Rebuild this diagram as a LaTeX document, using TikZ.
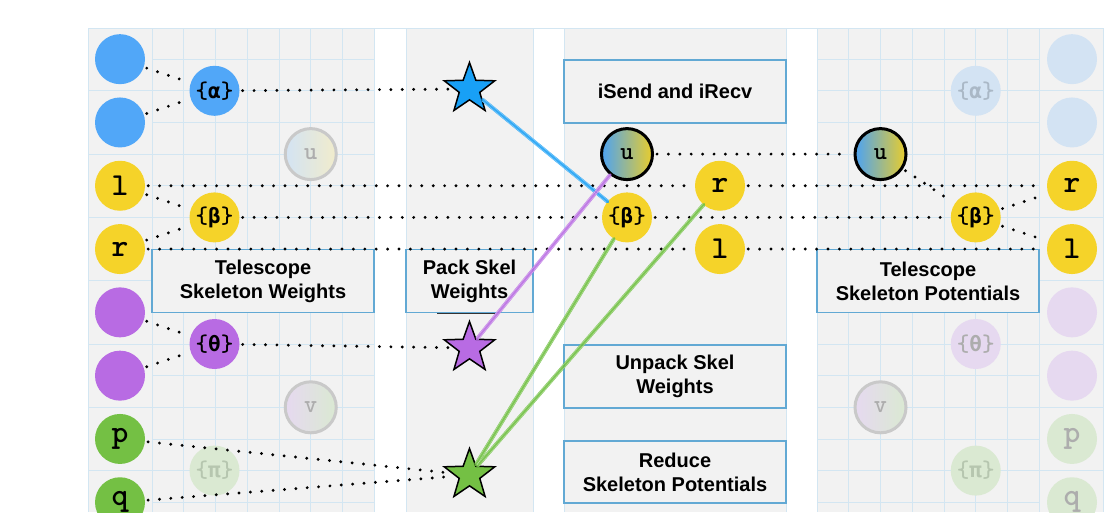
\documentclass[tikz,border=0pt]{standalone}
\usepackage{fontspec}
\setmainfont{Liberation Sans}
\newfontfamily\grk{DejaVu Sans Mono}
\usetikzlibrary{shapes.geometric}
\definecolor{panel}{HTML}{F2F2F2}
\definecolor{gridc}{HTML}{D3E6F2}
\definecolor{boxc}{HTML}{62A9D4}
\definecolor{cblue}{HTML}{51A7F8}
\definecolor{cyel}{HTML}{F5D329}
\definecolor{cpur}{HTML}{B86BE3}
\definecolor{cgrn}{HTML}{74C044}
\definecolor{fblue}{HTML}{D3E3F3}
\definecolor{fpur}{HTML}{E6D9F0}
\definecolor{fgrn}{HTML}{DAE9D2}
\definecolor{fyel}{HTML}{F1ECCC}
\definecolor{ftext}{HTML}{ADADAD}
\definecolor{ftextg}{HTML}{B6C6AF}
\definecolor{ftextb}{HTML}{AAB8C6}
\definecolor{fring}{HTML}{C9C9C9}
\definecolor{sblue}{HTML}{18A0F6}
\definecolor{sgrn}{HTML}{6DBF3E}
\definecolor{ublue}{HTML}{4DA3F2}
\definecolor{uyel}{HTML}{E9CD2C}
\newcommand{\grp}[1]{\{{\grk\bfseries\fontsize{21}{21}\selectfont #1}\}}
\tikzset{
  gridl/.style={draw=gridc, line width=0.9pt},
  lab/.style={draw=boxc, line width=1.2pt, fill=panel, align=center, inner sep=0pt,
    font=\bfseries\fontsize{20}{24}\selectfont},
  bigc/.style={circle, minimum size=50pt, inner sep=0pt,
    font=\ttfamily\bfseries\fontsize{32}{32}\selectfont},
  grpc/.style={circle, minimum size=50pt, inner sep=0pt,
    font=\ttfamily\bfseries\fontsize{24}{24}\selectfont},
  unode/.style={circle, minimum size=51pt, inner sep=0pt, line width=3pt,
    font=\ttfamily\bfseries\fontsize{25}{25}\selectfont},
  stl/.style={star, star points=5, star point ratio=2.45, minimum size=53pt,
    inner sep=0pt, draw=black, line width=1.5pt},
  dotl/.style={line width=3.2pt, line cap=round, dash pattern=on 0pt off 11.4pt,
    shorten <=3pt, shorten >=3pt},
  skl/.style={line width=3.8pt, line cap=round, opacity=0.88},
  skt/.style={line width=0.45pt, white, opacity=0.4},
}
\begin{document}
\begin{tikzpicture}[x=1pt,y=-1pt]
\clip (0,0) rectangle (1116,512);
\fill[white] (0,0) rectangle (1116,512);
% panels
\fill[panel] (88,28) rectangle (374,512);
\fill[panel] (406,28) rectangle (533,512);
\fill[panel] (564,28) rectangle (786,512);
\fill[panel] (817,28) rectangle (1103,512);
% grid left
\foreach \i in {0,...,7} \draw[gridl] (152+31.75*\i,28) -- (152+31.75*\i,512);
\foreach \k in {1,...,15} \draw[gridl] (152,27.5+31.65*\k) -- (374,27.5+31.65*\k);
\foreach \k in {2,4,...,14} \draw[gridl] (88,27.5+31.65*\k) -- (152,27.5+31.65*\k);
\draw[gridl] (88,28) -- (88,512);
% grid right
\foreach \i in {0,...,7} \draw[gridl] (817+31.75*\i,28) -- (817+31.75*\i,512);
\foreach \k in {1,...,15} \draw[gridl] (817,27.5+31.65*\k) -- (1039,27.5+31.65*\k);
\foreach \k in {2,4,...,14} \draw[gridl] (1039,27.5+31.65*\k) -- (1103,27.5+31.65*\k);
\draw[gridl] (1103,28) -- (1103,512);
% other panel edges
\foreach \x in {406,533,564,786} \draw[gridl] (\x,28) -- (\x,512);
\draw[gridl] (88,28) -- (1103,28);
% boxes
\node[lab, minimum width=222pt, minimum height=63pt] (tw) at (263,281) {Telescope\\Skeleton Weights};
\node[lab, minimum width=127pt, minimum height=63pt] (pk) at (469.5,281) {Pack Skel\\Weights};
\draw[line width=1pt, black!80] (437,313.5) -- (495,313.5);
\node[lab, minimum width=222pt, minimum height=63pt] (is) at (675,91.5) {iSend and iRecv};
\node[lab, minimum width=222pt, minimum height=63pt] (up) at (675,376.5) {Unpack Skel\\Weights};
\node[lab, minimum width=222pt, minimum height=62pt] (rd) at (675,472) {Reduce\\Skeleton Potentials};
\node[lab, minimum width=222pt, minimum height=63pt] (tp) at (928,281) {Telescope\\Skeleton Potentials};
% left nodes
\node[bigc, fill=cblue] (a1) at (120,59.15) {};
\node[bigc, fill=cblue] (a2) at (120,122.45) {};
\node[bigc, fill=cyel] (l1) at (120,185.75) {l};
\node[bigc, fill=cyel] (r1) at (120,249.05) {r};
\node[bigc, fill=cpur] (t1) at (120,312.35) {};
\node[bigc, fill=cpur] (t2) at (120,375.65) {};
\node[bigc, fill=cgrn] (p1) at (120,438.95) {p};
\node[bigc, fill=cgrn] (q1) at (120,502.25) {q};
\node[grpc, fill=cblue] (al1) at (214.5,90.8) {\grp{α}};
\node[grpc, fill=cyel] (b1) at (214.5,217.4) {\grp{β}};
\node[grpc, fill=cpur] (th1) at (214.5,344) {\grp{θ}};
\node[grpc, fill=fgrn, text=ftextg] (pi1) at (214.5,470.6) {\grp{π}};
\node[unode, draw=fring, left color=fblue, right color=fyel, text=ftext] (uf) at (310.75,154.1) {u};
\node[unode, draw=fring, left color=fpur, right color=fgrn, text=ftext] (vf) at (310.75,407.3) {v};
% stars
\node[stl, fill=sblue] (bs) at (469.5,89) {};
\node[stl, fill=cpur] (ps) at (469.5,348) {};
\node[stl, fill=cgrn] (gs) at (469.5,475) {};
% middle
\node[unode, draw=black, left color=ublue, right color=uyel] (u2) at (627,154.1) {u};
\node[grpc, fill=cyel] (b2) at (627,217.4) {\grp{β}};
\node[bigc, fill=cyel] (r2) at (720,185.75) {r};
\node[bigc, fill=cyel] (l2) at (720,249.05) {l};
% right
\node[unode, draw=black, left color=ublue, right color=uyel] (u3) at (880.5,154.1) {u};
\node[grpc, fill=cyel] (b3) at (975.75,217.4) {\grp{β}};
\node[bigc, fill=cyel] (r3) at (1072,185.75) {r};
\node[bigc, fill=cyel] (l3) at (1072,249.05) {l};
\node[grpc, fill=fblue, text=ftextb] (al3) at (975.75,90.8) {\grp{α}};
\node[grpc, fill=fpur, text=ftext] (th3) at (975.75,344) {\grp{θ}};
\node[grpc, fill=fgrn, text=ftextg] (pi3) at (975.75,470.6) {\grp{π}};
\node[unode, draw=fring, left color=fpur, right color=fgrn, text=ftext] (v3) at (880.5,407.3) {v};
\node[bigc, fill=fblue] (a31) at (1072,59.15) {};
\node[bigc, fill=fblue] (a32) at (1072,122.45) {};
\node[bigc, fill=fpur] (t31) at (1072,312.35) {};
\node[bigc, fill=fpur] (t32) at (1072,375.65) {};
\node[bigc, fill=fgrn, text=ftext] (p3) at (1072,438.95) {p};
\node[bigc, fill=fgrn, text=ftext] (q3) at (1072,502.25) {q};
% dotted connectors
\draw[dotl] (a1) -- (al1);
\draw[dotl] (a2) -- (al1);
\draw[dotl] (al1) -- (bs);
\draw[dotl] (l1) -- (b1);
\draw[dotl] (r1) -- (b1);
\draw[dotl] (l1) -- (r2);
\draw[dotl] (r2) -- (r3);
\draw[dotl] (b1) -- (b2);
\draw[dotl] (b2) -- (b3);
\draw[dotl] (r1) -- (l2);
\draw[dotl] (l2) -- (l3);
\draw[dotl] (t1) -- (th1);
\draw[dotl] (t2) -- (th1);
\draw[dotl] (th1) -- (ps);
\draw[dotl] (p1) -- (gs);
\draw[dotl] (q1) -- (gs);
\draw[dotl] (u2) -- (u3);
\draw[dotl] (u3) -- (b3);
\draw[dotl] (b3) -- (r3);
\draw[dotl] (b3) -- (l3);
% sketchy connectors
\draw[skl, sblue] (bs) -- (b2);
\draw[skl, cpur] (ps) -- (u2);
\draw[skl, sgrn] (gs) -- (b2);
\draw[skl, sgrn] (gs) -- (r2);
\foreach \s in {-0.9,0.9}{
  \draw[skt, transform canvas={shift={(\s pt,\s pt)}}] (bs) -- (b2);
  \draw[skt, transform canvas={shift={(\s pt,-\s pt)}}] (ps) -- (u2);
  \draw[skt, transform canvas={shift={(\s pt,-\s pt)}}] (gs) -- (b2);
  \draw[skt, transform canvas={shift={(\s pt,-\s pt)}}] (gs) -- (r2);
}
\end{tikzpicture}
\end{document}
